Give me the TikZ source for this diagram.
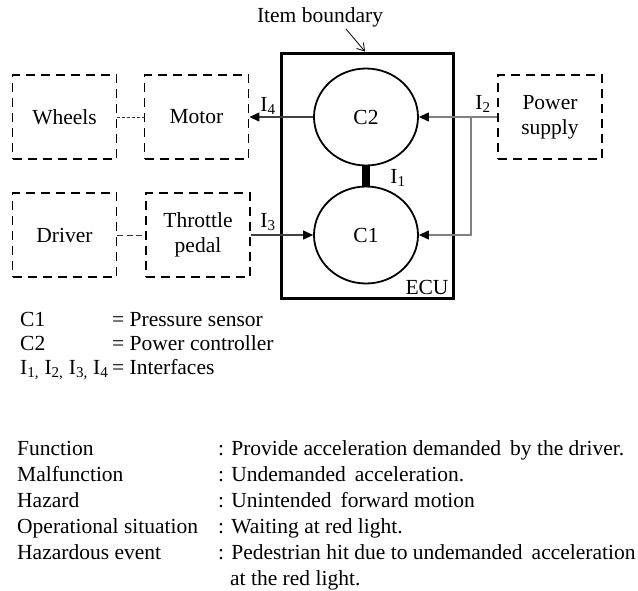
\documentclass[tikz,border=0pt]{standalone}
\usepackage{fontspec}
\setmainfont{Liberation Serif}
\usetikzlibrary{arrows.meta,shapes.geometric}
\begin{document}
\begin{tikzpicture}[x=1pt,y=-1pt,
  every node/.style={inner sep=0pt, font=\fontsize{21.5}{25}\selectfont},
  txt/.style={anchor=base west},
  extbox/.style={draw, line width=1.8pt, dash pattern=on 9pt off 6pt,
    minimum width=104pt, minimum height=84pt, align=center},
  comp/.style={draw, ellipse, line width=1.8pt, minimum width=104pt, minimum height=97pt},
  conn/.style={draw=black!75, line width=1.1pt},
  pline/.style={draw=black!50, line width=1.1pt},
  tip/.style={-{Triangle[length=10pt,width=9pt,color=black]}},
  lnkdot/.style={draw=black!80, line width=1pt, dash pattern=on 3pt off 2pt},
  lnkdash/.style={draw=black!80, line width=1pt, dash pattern=on 6pt off 3.5pt}]
\useasboundingbox (0,0) rectangle (638,590);

% external elements
\node[extbox] (wheels) at (64.5,117) {Wheels};
\node[extbox] (motor) at (196.5,117) {Motor};
\node[extbox] (driver) at (64.5,235) {Driver};
\node[extbox] (pedal) at (198,235) {Throttle\\pedal};
\node[extbox] (power) at (550,117) {Power\\supply};

% item boundary (ECU)
\node[draw, line width=3pt, minimum width=172pt, minimum height=245pt] (ecu) at (367,175.5) {};
\node (ecul) at (427,287) {ECU};
\node (ib) at (320,17) {Item boundary};
\coordinate (ibfrom) at (346,29);
\coordinate (ibtip) at (365,51.5);
\draw[line width=0.8pt, -{Straight Barb[length=7pt,width=9pt]}] (ibfrom) -- (ibtip);

% components
\node[comp] (c2) at (366,117) {C2};
\node[comp] (c1) at (366,235) {C1};
\draw[line width=8pt] (c2.south) -- (c1.north);
\node (i1) at (398,178) {I\textsubscript{1}};

% links between external elements
\draw[lnkdot] (wheels.east) -- (motor.west);
\draw[lnkdash] (driver.east) -- (pedal.west);

% interfaces
\draw[conn, tip] (c2.west) -- (motor.east);
\node (i4) at (268,106) {I\textsubscript{4}};
\draw[conn, tip] (pedal.east) -- (c1.west);
\node (i3) at (268,222) {I\textsubscript{3}};
\coordinate (br) at (471,117);
\draw[pline, tip] (power.west) -- (c2.east);
\draw[pline, tip] (br) |- (c1.east);
\node (i2) at (483,104) {I\textsubscript{2}};

% legend
\node[txt] (k1) at (20,326) {C1};
\node[txt] (v1) at (112,326) {= Pressure sensor};
\node[txt] (k2) at (20,350) {C2};
\node[txt] (v2) at (112,350) {= Power controller};
\node[txt] (k3) at (20,374) {I\textsubscript{1,} I\textsubscript{2,} I\textsubscript{3,} I\textsubscript{4}};
\node[txt] (v3) at (112,374) {= Interfaces};

% hazard description
\node[txt] (f1) at (17,455) {Function};
\node[txt] (g1) at (218,455) {: Provide acceleration demanded\, by the driver.};
\node[txt] (f2) at (17,481) {Malfunction};
\node[txt] (g2) at (218,481) {: Undemanded\, acceleration.};
\node[txt] (f3) at (17,507) {Hazard};
\node[txt] (g3) at (218,507) {: Unintended\, forward motion};
\node[txt] (f4) at (17,533) {Operational situation};
\node[txt] (g4) at (218,533) {: Waiting at red light.};
\node[txt] (f5) at (17,559) {Hazardous event};
\node[txt] (g5) at (218,559) {: Pedestrian hit due to undemanded\, acceleration};
\node[txt] (g6) at (230,585) {at the red light.};
\end{tikzpicture}
\end{document}
